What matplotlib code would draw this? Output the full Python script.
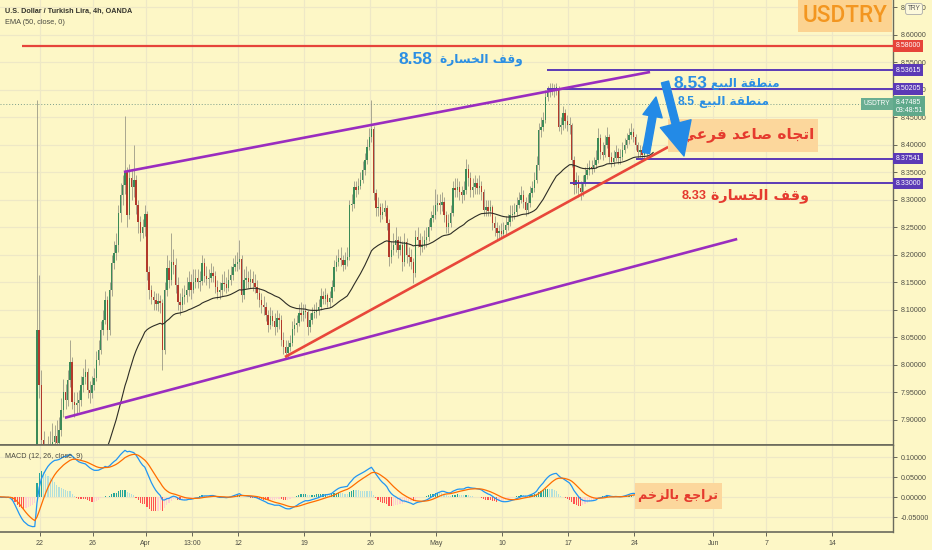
import numpy as np
import pandas as pd
import matplotlib
matplotlib.use("Agg")
import matplotlib.pyplot as plt
from matplotlib.patches import Rectangle, FancyArrowPatch
from matplotlib.transforms import blended_transform_factory as blend

plt.rcParams['font.family'] = ['Liberation Sans', 'DejaVu Sans']

# ---------------- data (USDTRY 4h, OANDA) ----------------
# closes before the visible window (only feed the indicators)
pre_closes = [7.58, 7.60, 7.59, 7.61, 7.62, 7.60, 7.61, 7.63, 7.62, 7.60,
              7.59, 7.61, 7.62, 7.64, 7.63, 7.61, 7.60, 7.62, 7.63, 7.61,
              7.60, 7.62, 7.61, 7.59, 7.60, 7.61, 7.62, 7.60, 7.61, 7.62,
              7.63, 7.61, 7.60, 7.62, 7.61, 7.60, 7.61, 7.62, 7.60, 7.61,
              7.60, 7.61, 7.60, 7.61, 7.60, 7.61, 7.60, 7.61, 7.58, 7.52,
              7.45, 7.40, 7.37, 7.35, 7.34, 7.35, 7.33, 7.34, 7.33, 7.34]

closes = [
    8.064, 7.964, 7.864, 7.809, 7.827, 7.845, 7.849, 7.860, 7.870, 7.858,
    7.882, 7.918, 7.951, 7.936, 7.973, 8.005, 7.933, 7.927, 7.931, 7.936,
    7.964, 7.978, 7.987, 7.955, 7.949, 7.964, 7.976, 8.009, 8.027, 8.064,
    8.082, 8.118, 8.064, 8.136, 8.185, 8.204, 8.218, 8.276, 8.309, 8.327,
    8.351, 8.273, 8.340, 8.324, 8.336, 8.291, 8.260, 8.240, 8.250, 8.274,
    8.169, 8.136, 8.124, 8.118, 8.110, 8.117, 8.113, 8.027, 8.136, 8.176,
    8.155, 8.187, 8.182, 8.145, 8.115, 8.109, 8.124, 8.127, 8.136, 8.151,
    8.136, 8.151, 8.158, 8.150, 8.153, 8.185, 8.162, 8.156, 8.158, 8.167,
    8.162, 8.142, 8.133, 8.136, 8.149, 8.147, 8.140, 8.155, 8.164, 8.178,
    8.184, 8.187, 8.193, 8.127, 8.155, 8.158, 8.150, 8.156, 8.149, 8.142,
    8.131, 8.118, 8.109, 8.105, 8.091, 8.073, 8.089, 8.080, 8.069, 8.085,
    8.082, 8.045, 8.033, 8.022, 8.033, 8.040, 8.066, 8.073, 8.076, 8.095,
    8.090, 8.098, 8.096, 8.069, 8.082, 8.095, 8.096, 8.100, 8.105, 8.126,
    8.120, 8.128, 8.115, 8.122, 8.142, 8.178, 8.187, 8.195, 8.191, 8.182,
    8.191, 8.196, 8.291, 8.293, 8.324, 8.318, 8.325, 8.336, 8.355, 8.373,
    8.396, 8.415, 8.429, 8.313, 8.285, 8.287, 8.273, 8.278, 8.285, 8.258,
    8.196, 8.209, 8.218, 8.227, 8.209, 8.218, 8.187, 8.224, 8.200, 8.196,
    8.187, 8.167, 8.233, 8.227, 8.215, 8.218, 8.227, 8.233, 8.251, 8.267,
    8.273, 8.291, 8.295, 8.291, 8.296, 8.273, 8.251, 8.258, 8.276, 8.322,
    8.318, 8.324, 8.315, 8.309, 8.318, 8.356, 8.340, 8.318, 8.324, 8.330,
    8.322, 8.325, 8.315, 8.282, 8.288, 8.280, 8.287, 8.258, 8.249, 8.240,
    8.244, 8.238, 8.245, 8.255, 8.260, 8.273, 8.275, 8.278, 8.291, 8.300,
    8.309, 8.296, 8.282, 8.295, 8.313, 8.322, 8.336, 8.364, 8.427, 8.433,
    8.445, 8.487, 8.496, 8.504, 8.498, 8.503, 8.504, 8.433, 8.436, 8.458,
    8.443, 8.436, 8.436, 8.373, 8.327, 8.336, 8.322, 8.315, 8.331, 8.345,
    8.355, 8.360, 8.358, 8.364, 8.373, 8.413, 8.388, 8.382, 8.400, 8.415,
    8.378, 8.369, 8.376, 8.387, 8.376, 8.378, 8.391, 8.400, 8.409, 8.418,
    8.424, 8.415, 8.400, 8.387, 8.391, 8.382, 8.385, 8.391, 8.405, 8.433,
    8.475]

highs = [
    8.482, 8.164, 7.990, 7.880, 7.850, 7.870, 7.880, 7.895, 7.890, 7.900,
    7.905, 7.940, 7.975, 7.965, 7.990, 8.045, 8.015, 7.950, 7.950, 7.955,
    7.980, 7.995, 8.010, 7.995, 7.970, 7.980, 7.995, 8.025, 8.045, 8.080,
    8.100, 8.135, 8.125, 8.150, 8.200, 8.225, 8.240, 8.290, 8.330, 8.345,
    8.452, 8.360, 8.365, 8.355, 8.400, 8.345, 8.300, 8.270, 8.265, 8.290,
    8.280, 8.180, 8.145, 8.135, 8.130, 8.130, 8.128, 8.120, 8.150, 8.200,
    8.190, 8.240, 8.210, 8.195, 8.160, 8.130, 8.140, 8.145, 8.160, 8.170,
    8.165, 8.175, 8.175, 8.175, 8.170, 8.200, 8.195, 8.180, 8.175, 8.185,
    8.180, 8.170, 8.155, 8.150, 8.165, 8.170, 8.160, 8.175, 8.180, 8.195,
    8.200, 8.205, 8.227, 8.200, 8.175, 8.180, 8.170, 8.175, 8.170, 8.165,
    8.155, 8.140, 8.130, 8.125, 8.115, 8.100, 8.105, 8.100, 8.095, 8.100,
    8.095, 8.090, 8.060, 8.045, 8.045, 8.055, 8.080, 8.085, 8.090, 8.110,
    8.115, 8.110, 8.110, 8.100, 8.095, 8.105, 8.110, 8.115, 8.120, 8.140,
    8.135, 8.140, 8.130, 8.135, 8.155, 8.190, 8.200, 8.210, 8.215, 8.200,
    8.205, 8.215, 8.300, 8.310, 8.335, 8.335, 8.340, 8.350, 8.370, 8.385,
    8.410, 8.430, 8.482, 8.435, 8.320, 8.305, 8.295, 8.295, 8.300, 8.290,
    8.265, 8.225, 8.240, 8.250, 8.235, 8.235, 8.225, 8.240, 8.230, 8.215,
    8.210, 8.195, 8.245, 8.250, 8.240, 8.235, 8.245, 8.250, 8.265, 8.280,
    8.290, 8.320, 8.310, 8.310, 8.315, 8.305, 8.280, 8.275, 8.290, 8.335,
    8.340, 8.340, 8.335, 8.325, 8.335, 8.375, 8.365, 8.350, 8.340, 8.345,
    8.340, 8.345, 8.335, 8.320, 8.300, 8.300, 8.300, 8.290, 8.270, 8.260,
    8.255, 8.258, 8.260, 8.270, 8.275, 8.290, 8.290, 8.295, 8.305, 8.315,
    8.325, 8.318, 8.305, 8.310, 8.325, 8.335, 8.350, 8.380, 8.440, 8.450,
    8.460, 8.500, 8.508, 8.512, 8.512, 8.510, 8.512, 8.508, 8.450, 8.470,
    8.465, 8.455, 8.450, 8.440, 8.380, 8.350, 8.345, 8.335, 8.345, 8.360,
    8.368, 8.372, 8.372, 8.378, 8.390, 8.430, 8.420, 8.405, 8.418, 8.432,
    8.420, 8.388, 8.390, 8.400, 8.395, 8.392, 8.405, 8.412, 8.422, 8.430,
    8.440, 8.430, 8.420, 8.405, 8.400, 8.398, 8.395, 8.402, 8.415, 8.445,
    8.482]

lows = [
    7.200, 7.940, 7.840, 7.780, 7.790, 7.815, 7.830, 7.835, 7.845, 7.845,
    7.850, 7.870, 7.905, 7.920, 7.925, 7.960, 7.920, 7.905, 7.910, 7.915,
    7.925, 7.950, 7.965, 7.940, 7.930, 7.940, 7.955, 7.970, 8.000, 8.020,
    8.055, 8.075, 8.045, 8.055, 8.125, 8.175, 8.190, 8.205, 8.260, 8.290,
    8.310, 8.250, 8.265, 8.300, 8.305, 8.275, 8.240, 8.225, 8.230, 8.235,
    8.155, 8.120, 8.110, 8.100, 8.100, 8.098, 8.095, 7.990, 8.020, 8.125,
    8.140, 8.145, 8.165, 8.130, 8.100, 8.090, 8.100, 8.110, 8.115, 8.125,
    8.120, 8.130, 8.140, 8.140, 8.135, 8.145, 8.150, 8.145, 8.140, 8.150,
    8.150, 8.130, 8.120, 8.120, 8.125, 8.135, 8.130, 8.135, 8.145, 8.155,
    8.170, 8.170, 8.175, 8.115, 8.120, 8.140, 8.140, 8.140, 8.135, 8.130,
    8.120, 8.105, 8.095, 8.090, 8.080, 8.060, 8.065, 8.070, 8.055, 8.060,
    8.065, 8.035, 8.020, 8.013, 8.015, 8.025, 8.035, 8.055, 8.060, 8.070,
    8.080, 8.080, 8.085, 8.055, 8.060, 8.075, 8.085, 8.085, 8.090, 8.100,
    8.110, 8.110, 8.105, 8.105, 8.115, 8.135, 8.170, 8.180, 8.180, 8.170,
    8.175, 8.180, 8.190, 8.280, 8.285, 8.305, 8.310, 8.320, 8.330, 8.345,
    8.365, 8.390, 8.405, 8.300, 8.270, 8.270, 8.260, 8.265, 8.270, 8.245,
    8.180, 8.185, 8.200, 8.205, 8.195, 8.200, 8.170, 8.180, 8.185, 8.180,
    8.175, 8.149, 8.160, 8.215, 8.200, 8.205, 8.210, 8.215, 8.225, 8.245,
    8.260, 8.265, 8.280, 8.275, 8.280, 8.260, 8.240, 8.240, 8.250, 8.270,
    8.305, 8.305, 8.300, 8.295, 8.300, 8.310, 8.325, 8.305, 8.305, 8.310,
    8.310, 8.310, 8.300, 8.270, 8.270, 8.270, 8.270, 8.245, 8.235, 8.228,
    8.228, 8.230, 8.232, 8.238, 8.245, 8.252, 8.262, 8.265, 8.270, 8.285,
    8.295, 8.285, 8.270, 8.275, 8.288, 8.305, 8.315, 8.330, 8.355, 8.415,
    8.425, 8.440, 8.480, 8.488, 8.490, 8.488, 8.490, 8.425, 8.420, 8.428,
    8.430, 8.425, 8.420, 8.360, 8.310, 8.312, 8.305, 8.300, 8.308, 8.325,
    8.338, 8.345, 8.348, 8.350, 8.358, 8.368, 8.375, 8.372, 8.378, 8.395,
    8.368, 8.360, 8.362, 8.370, 8.365, 8.366, 8.372, 8.385, 8.395, 8.402,
    8.410, 8.405, 8.390, 8.377, 8.378, 8.374, 8.375, 8.378, 8.385, 8.400,
    8.428]

# horizontal levels: price, first bar, kind
level_prices = [8.58, 8.53615, 8.50205, 8.37541, 8.33]
level_start_bar = [-6.8, 231.8, 231.8, 272.0, 242.0]
level_kind = ["stop", "zone", "zone", "zone", "zone"]
last_price = 8.47485
countdown = "03:48:51"

# trend lines: ((bar, price), (bar, price))
channel_upper = ((39.5, 8.351), (278.6, 8.5327))
channel_lower = ((12.7, 7.904), (318.2, 8.229))
support_line = ((112.7, 8.0145), (286.8, 8.3963))

# date axis (trading days from Mon 22 Mar 2021, 6 bars a day)
tick_days = [0, 4, 8, 11.5, 15, 20, 25, 30, 35, 40, 45, 51, 55, 60]
tick_labels = ["22", "26", "Apr", "13:00", "12", "19", "26", "May",
               "10", "17", "24", "Jun", "7", "14"]
first_bar_day = -0.227

price_ticks = [7.90, 7.95, 8.00, 8.05, 8.10, 8.15, 8.20, 8.25, 8.30,
               8.35, 8.40, 8.45, 8.50, 8.55, 8.60, 8.65]
macd_ticks = [-0.05, 0.0, 0.05, 0.10]

# annotation texts (number part, Arabic part)
stop_top = ("8.58", "وقف الخسارة")
sell1 = ("8.53", "منطقة البيع")
sell2 = ("8.5", "منطقة البيع")
stop_low = ("8.33", "وقف الخسارة")
txt_trend = "اتجاه صاعد فرعي"
txt_momentum = "تراجع بالزخم"

# ---------------- Arabic shaping (presentation forms, visual order) ----------------
AR = {
    '\u0627': ('\uFE8D', '\uFE8E', None, None),
    '\u0628': ('\uFE8F', '\uFE90', '\uFE91', '\uFE92'),
    '\u0629': ('\uFE93', '\uFE94', None, None),
    '\u062A': ('\uFE95', '\uFE96', '\uFE97', '\uFE98'),
    '\u062C': ('\uFE9D', '\uFE9E', '\uFE9F', '\uFEA0'),
    '\u062E': ('\uFEA5', '\uFEA6', '\uFEA7', '\uFEA8'),
    '\u062F': ('\uFEA9', '\uFEAA', None, None),
    '\u0631': ('\uFEAD', '\uFEAE', None, None),
    '\u0632': ('\uFEAF', '\uFEB0', None, None),
    '\u0633': ('\uFEB1', '\uFEB2', '\uFEB3', '\uFEB4'),
    '\u0635': ('\uFEB9', '\uFEBA', '\uFEBB', '\uFEBC'),
    '\u0637': ('\uFEC1', '\uFEC2', '\uFEC3', '\uFEC4'),
    '\u0639': ('\uFEC9', '\uFECA', '\uFECB', '\uFECC'),
    '\u0641': ('\uFED1', '\uFED2', '\uFED3', '\uFED4'),
    '\u0642': ('\uFED5', '\uFED6', '\uFED7', '\uFED8'),
    '\u0644': ('\uFEDD', '\uFEDE', '\uFEDF', '\uFEE0'),
    '\u0645': ('\uFEE1', '\uFEE2', '\uFEE3', '\uFEE4'),
    '\u0646': ('\uFEE5', '\uFEE6', '\uFEE7', '\uFEE8'),
    '\u0647': ('\uFEE9', '\uFEEA', '\uFEEB', '\uFEEC'),
    '\u0648': ('\uFEED', '\uFEEE', None, None),
    '\u064A': ('\uFEF1', '\uFEF2', '\uFEF3', '\uFEF4'),
}


def shape(word):
    out = []
    for k, ch in enumerate(word):
        if ch not in AR:
            out.append(ch)
            continue
        prev = word[k - 1] if k > 0 else None
        nxt = word[k + 1] if k + 1 < len(word) else None
        jp = prev in AR and AR[prev][2] is not None
        jn = nxt in AR and AR[ch][2] is not None
        iso, fin, ini, med = AR[ch]
        out.append(med if (jp and jn) else fin if jp else ini if jn else iso)
    return ''.join(out)


def rtl(s):
    toks = []
    for tok in reversed(s.split(' ')):
        toks.append(shape(tok)[::-1] if any(c in AR for c in tok) else tok)
    return ' '.join(toks)


# ---------------- derived series ----------------
c = np.array(closes)
o = np.r_[pre_closes[-1], c[:-1]]
h = np.maximum(np.array(highs), np.maximum(o, c))
l = np.minimum(np.array(lows), np.minimum(o, c))
idx = np.arange(len(c))

full = pd.Series(pre_closes + closes, index=np.arange(-len(pre_closes), len(closes)))
ema50 = full.ewm(span=50, adjust=False).mean()
macd = full.ewm(span=12, adjust=False).mean() - full.ewm(span=26, adjust=False).mean()
signal = macd.ewm(span=9, adjust=False).mean()
hist = macd - signal

# ---------------- figure ----------------
W, H = 932, 550
BG = '#fdf7c6'
GRID = '#eee8c6'
AXC = '#6a6a5c'
TXT = '#4f4f45'
fig = plt.figure(figsize=(W / 100, H / 100), dpi=100)
fig.patch.set_facecolor(BG)
R = fig.canvas.get_renderer()


def fx(px):
    return px / W


def fy(py):
    return 1 - py / H


ax = fig.add_axes([0, fy(445), fx(893), 445 / H])
axm = fig.add_axes([0, fy(532), fx(893), 87 / H], sharex=ax)
for a in (ax, axm):
    a.set_facecolor(BG)
    for s in ('left', 'top'):
        a.spines[s].set_visible(False)
    a.spines['right'].set_color(AXC)
    a.spines['bottom'].set_color(AXC)
    a.spines['right'].set_linewidth(1.0)
    a.spines['bottom'].set_linewidth(1.2)
    a.yaxis.tick_right()
    a.grid(True, color=GRID, lw=0.9)
    a.set_axisbelow(True)
    a.tick_params(axis='y', labelsize=5.1, colors=TXT, length=3, width=0.6, pad=2.5)

tick_pos = [(d - first_bar_day) * 6 for d in tick_days]
ax.set_xlim(-16.8, 389)
ax.set_ylim(7.8545, 8.6636)
axm.set_ylim(-0.0875, 0.13)
ax.set_yticks(price_ticks)
ax.set_yticklabels([f"{v:.5f}" for v in price_ticks])
axm.set_yticks(macd_ticks)
axm.set_yticklabels([f"{v:.5f}" for v in macd_ticks])
axm.set_xticks(tick_pos)
axm.set_xticklabels(tick_labels)
ax.tick_params(axis='x', length=0, labelbottom=False)
axm.tick_params(axis='x', labelsize=5.0, colors=TXT, length=3, width=0.6, pad=3)
axm.spines['top'].set_visible(True)
axm.spines['top'].set_color(AXC)
axm.spines['top'].set_linewidth(1.2)

# candles
GREEN, RED, WICK = '#3b8a57', '#b23a2b', '#9b9a86'
up = c >= o
ax.vlines(idx, l, h, color=WICK, lw=0.6, zorder=2)
ax.bar(idx, np.maximum(np.abs(c - o), 0.0016), bottom=np.minimum(o, c), width=0.64,
       color=np.where(up, GREEN, RED), linewidth=0, zorder=3)

# EMA 50
ax.plot(ema50.index, ema50.values, color='#2d2d26', lw=0.8, zorder=4)

# last price dotted line
ax.axhline(last_price, color='#7c9f8a', lw=0.7, ls=(0, (1, 2)), zorder=1)

# levels
LEVEL_COL = {"stop": '#e6443a', "zone": '#5b3ab6'}
for p, sb, k in zip(level_prices, level_start_bar, level_kind):
    ax.hlines(p, sb, 389, color=LEVEL_COL[k], lw=1.6 if k == "stop" else 1.4, zorder=5)

# trend lines
for (p1, p2), col in ((channel_upper, '#9a2dbf'), (channel_lower, '#9a2dbf'),
                      (support_line, '#e8473a')):
    ax.plot([p1[0], p2[0]], [p1[1], p2[1]], color=col, lw=1.9, zorder=5,
            solid_capstyle='butt')

# MACD
hc = []
prev = 0.0
for v in hist.values:
    if v >= 0:
        hc.append('#26a69a' if v > prev else '#b2dfdb')
    else:
        hc.append('#ff5252' if v < prev else '#ffcdd2')
    prev = v
axm.bar(hist.index, hist.values, width=0.55, color=hc, linewidth=0, zorder=2)
axm.plot(macd.index, macd.values, color='#2196f3', lw=0.9, zorder=3)
axm.plot(signal.index, signal.values, color='#ff6d00', lw=0.9, zorder=3)

# ---------------- price tags on the axis ----------------
tr = blend(ax.transAxes, ax.transData)
TAG_FS = 5.0
for p, k in zip(level_prices, level_kind):
    ax.text(1.003, p, f"{p:.5f}", transform=tr, ha='left', va='center', fontsize=TAG_FS,
            color='white', clip_on=False, zorder=10,
            bbox=dict(boxstyle='square,pad=0.32', fc=LEVEL_COL[k], ec='none'))
ax.text(1.003, last_price + 0.0095, f"{last_price:.5f}\n{countdown}", transform=tr,
        ha='left', va='top', fontsize=TAG_FS, color='white', clip_on=False, zorder=10,
        linespacing=1.2, bbox=dict(boxstyle='square,pad=0.32', fc='#5fa98b', ec='none'))
ax.text(0.997, last_price, "USDTRY", transform=tr, ha='right', va='center', fontsize=4.7,
        color='white', clip_on=False, zorder=10,
        bbox=dict(boxstyle='square,pad=0.35', fc='#6aae92', ec='none'))
fig.text(fx(914), fy(9), "TRY", ha='center', va='center', fontsize=4.7, color='#555',
         bbox=dict(boxstyle='round,pad=0.3', fc='#fdf9dc', ec='#aaa', lw=0.6), zorder=20)


# ---------------- annotation boxes and texts ----------------
def box(x0, y0, x1, y1, col):
    fig.add_artist(Rectangle((fx(x0), fy(y1)), fx(x1) - fx(x0), (y1 - y0) / H,
                             transform=fig.transFigure, fc=col, ec='none', zorder=6))


AF = ('DejaVu Sans Condensed', 'DejaVu Sans')
NF = ('Liberation Sans', 'DejaVu Sans')


def fit_text(s, x0, x1, yc, color, weight='bold', family=NF, z=8, grow=1.0):
    """place text s so that it spans pixels x0..x1 (times grow), centred on yc"""
    t = fig.text(fx(x0), fy(yc), s, ha='left', va='center', fontsize=10, color=color,
                 weight=weight, family=list(family), zorder=z)
    w = t.get_window_extent(renderer=R).width
    t.set_fontsize(10 * (x1 - x0) / w * grow)
    w = t.get_window_extent(renderer=R).width
    t.set_x(fx((x0 + x1) / 2 - w / 2))
    return t, w


def label_pair(num, ar, xn0, xn1, xa0, xa1, yc, color, grow=1.3, anchor='center'):
    tn, wn = fit_text(num, xn0, xn1, yc, color)
    ta, wa = fit_text(rtl(ar), xa0, xa1, yc, color, family=AF, grow=grow)
    gap = xa0 - xn1
    if anchor == 'left':
        left = xn0
    else:
        left = (xn0 + xa1) / 2 - (wn + gap + wa) / 2
    tn.set_x(fx(left))
    ta.set_x(fx(left + wn + gap))


# header texts
fit_text("U.S. Dollar / Turkish Lira, 4h, OANDA", 5, 133, 11, '#34342c')
fit_text("EMA (50, close, 0)", 5, 65, 23, '#4a4a40', weight='normal')
fit_text("MACD (12, 26, close, 9)", 5, 82, 456, '#4a4a40', weight='normal')

box(798, 0, 892, 32, '#fcd391')
fit_text("USDTRY", 803, 888, 16, '#f39620', weight='medium', family=('Roboto', 'DejaVu Sans'))

box(668, 119, 818, 152, '#fcd79c')
box(635, 483, 722, 509, '#fcd79c')

BLUE = '#2b8fe3'
REDT = '#e53a2e'
label_pair(stop_top[0], stop_top[1], 408, 442, 449, 513, 60, BLUE)
label_pair(sell1[0], sell1[1], 673, 707, 711, 768, 84, BLUE, grow=1.2, anchor='left')
label_pair(sell2[0], sell2[1], 678, 695, 699, 760, 102, BLUE, grow=1.15, anchor='left')
fit_text(rtl(txt_trend), 681, 815, 135, REDT, family=AF)
label_pair(stop_low[0], stop_low[1], 682, 707, 711, 800, 196, REDT, grow=1.1, anchor='left')
fit_text(rtl(txt_momentum), 637, 718, 496, REDT, family=AF)

# ---------------- arrows ----------------
ARROW = '#238ae6'
fig.add_artist(FancyArrowPatch((fx(646), fy(153)), (fx(656), fy(97)), transform=fig.transFigure,
                               arrowstyle='simple,head_length=0.7,head_width=0.7,tail_width=0.26',
                               mutation_scale=20, color=ARROW, zorder=9,
                               shrinkA=0, shrinkB=0))
fig.add_artist(FancyArrowPatch((fx(665), fy(82)), (fx(684), fy(156)), transform=fig.transFigure,
                               arrowstyle='simple,head_length=1.0,head_width=0.95,tail_width=0.22',
                               mutation_scale=24, color=ARROW, zorder=9,
                               shrinkA=0, shrinkB=0))

fig.savefig("out.png", dpi=100, facecolor=BG)
